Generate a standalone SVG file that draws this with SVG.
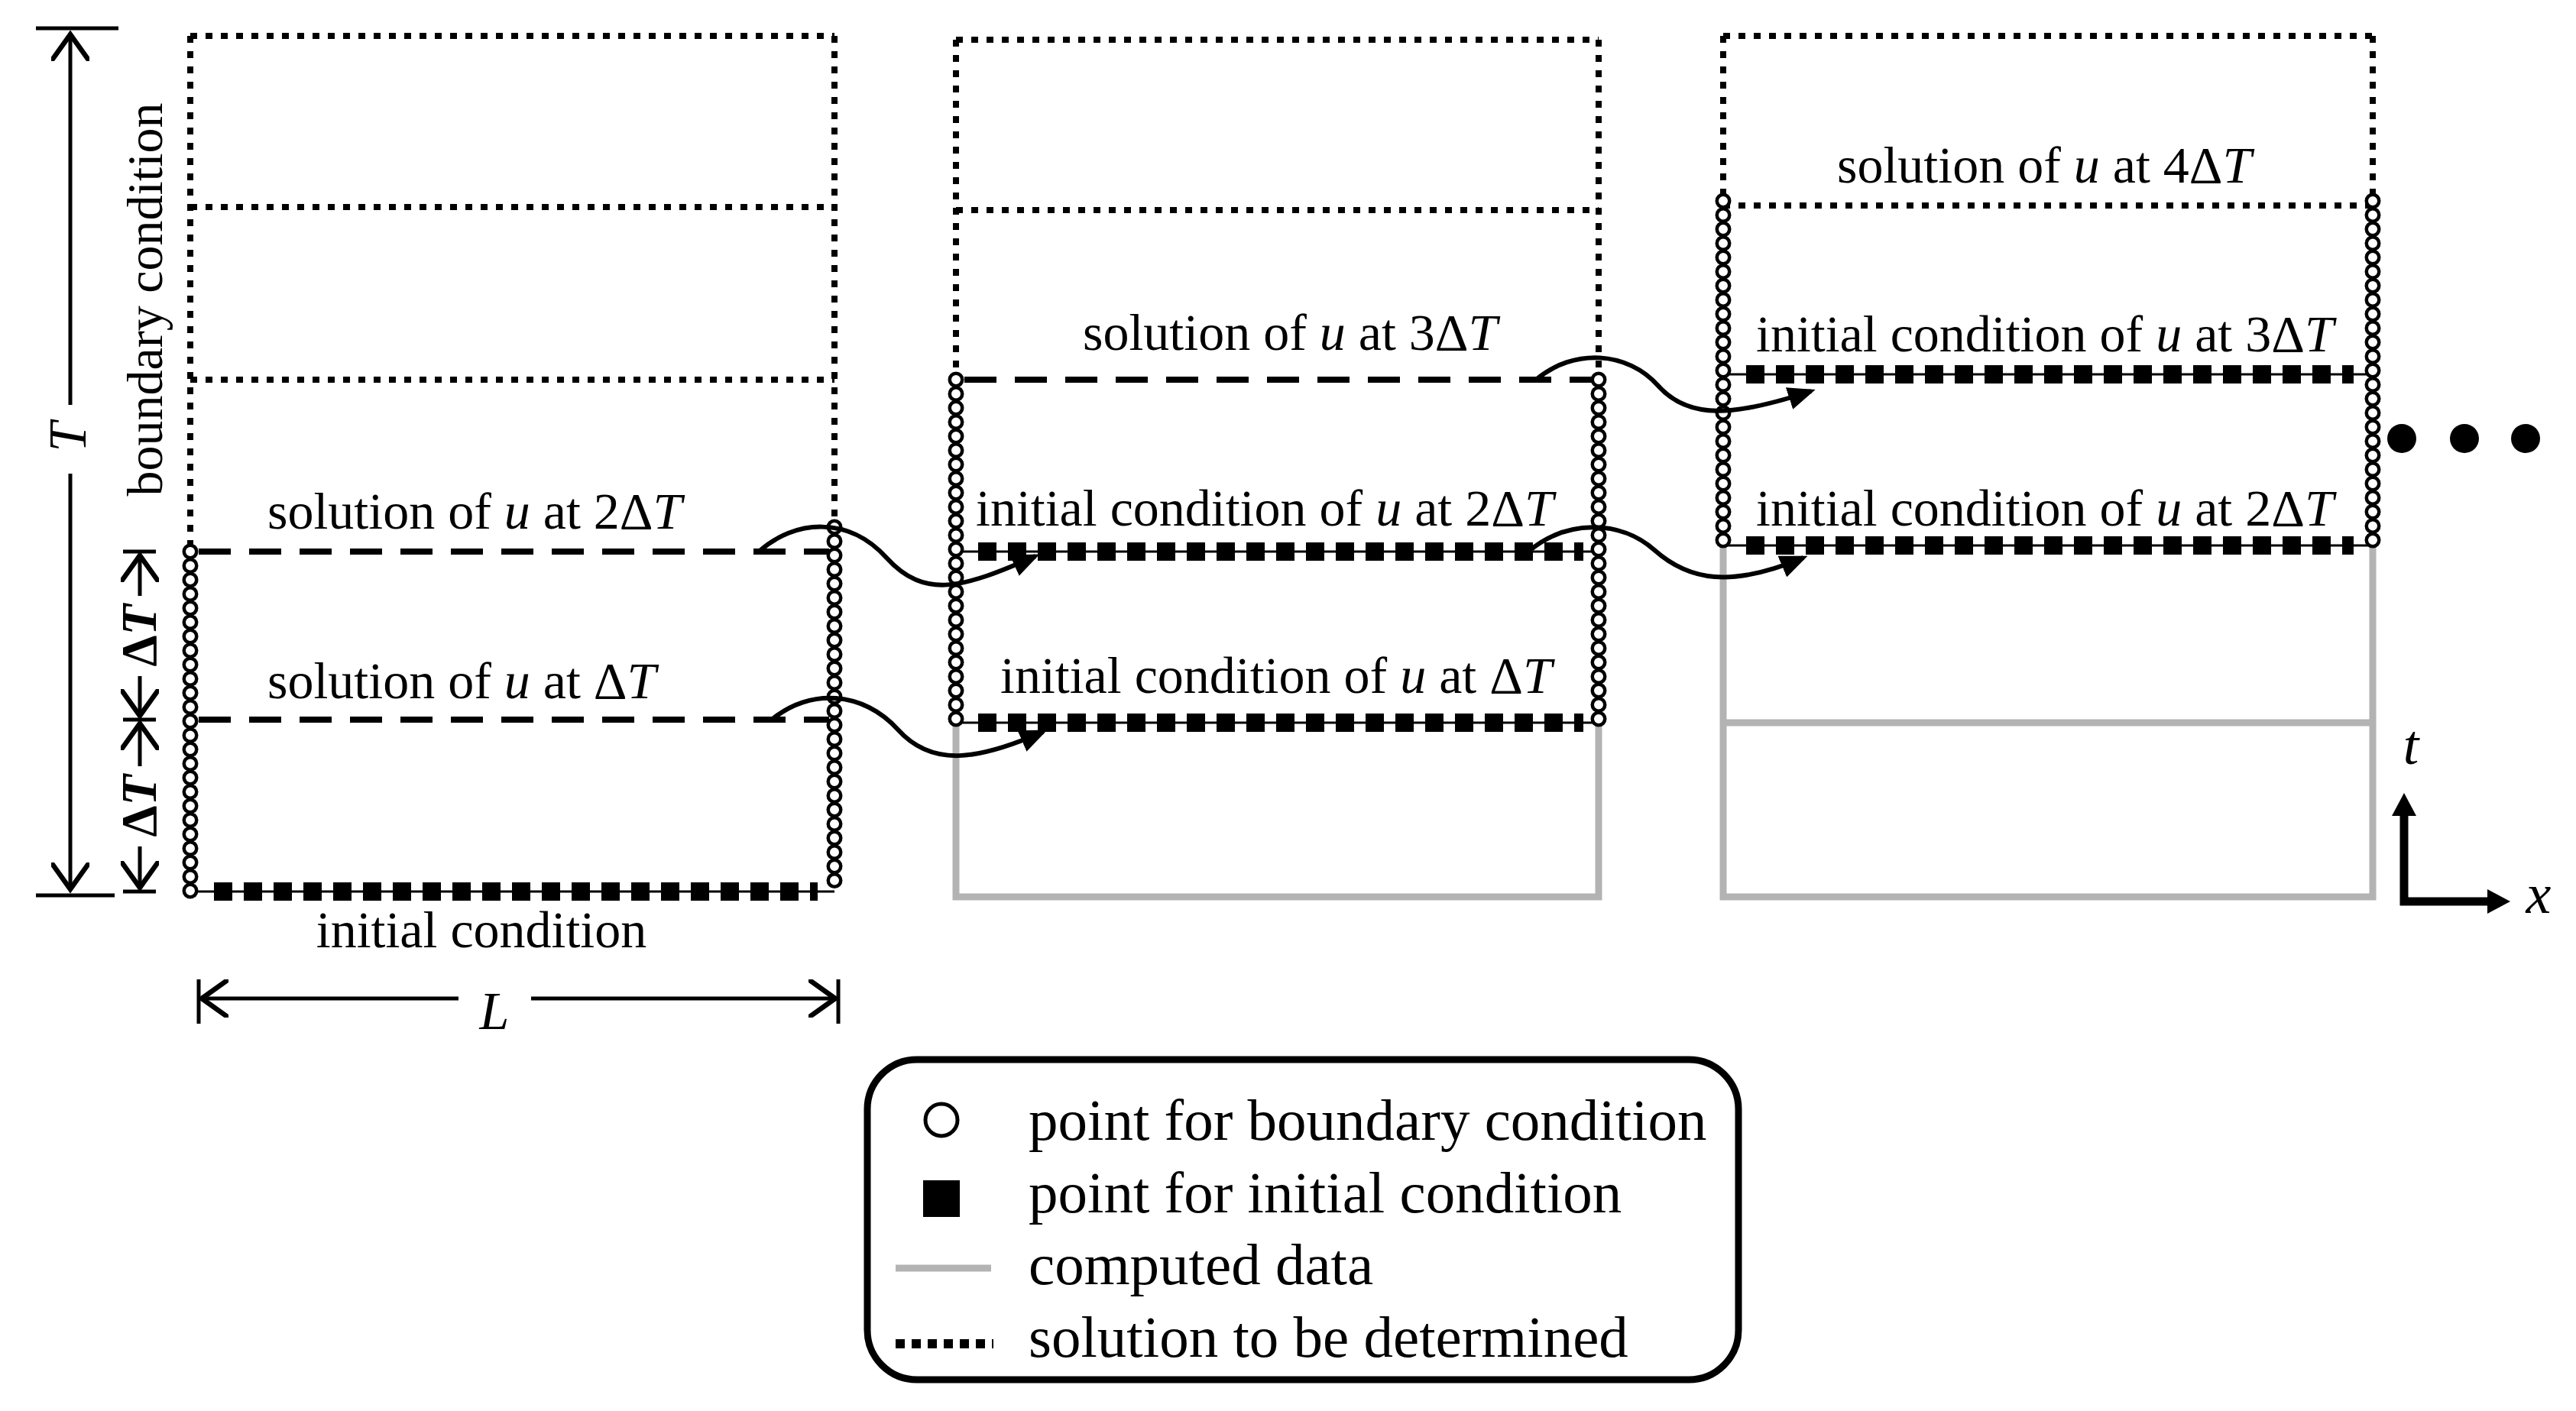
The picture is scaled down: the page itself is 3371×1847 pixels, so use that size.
<svg xmlns="http://www.w3.org/2000/svg" width="3371" height="1847" viewBox="0 0 3371 1847">
<style>
text{font-family:"Liberation Serif","Times New Roman",serif;fill:#000}
.lbl{font-size:68px}
.dot{stroke:#000;stroke-width:8;stroke-dasharray:9 11;fill:none}
.dash{stroke:#000;stroke-width:8;stroke-dasharray:42 24;fill:none}
.gray{stroke:#b3b3b3;stroke-width:9;fill:none}
.cb{stroke:#000;stroke-width:21;stroke-linecap:round;stroke-dasharray:0 18.5;fill:none}
.cw{stroke:#fff;stroke-width:12;stroke-linecap:round;stroke-dasharray:0 18.5;fill:none}
.thin{stroke:#000;stroke-width:3}
.sq{stroke:#000;stroke-width:24;stroke-dasharray:24 15;fill:none}
.ln{stroke:#000;stroke-width:5;fill:none}
.cur{stroke:#000;stroke-width:6;fill:none}
</style>
<defs>
<marker id="ah" markerWidth="6" markerHeight="5" refX="5" refY="2.5" orient="auto" markerUnits="strokeWidth"><path d="M0,0 L6,2.5 L0,5 Z" fill="#000"/></marker>
<marker id="oa" markerWidth="8" markerHeight="10" refX="7" refY="5" orient="auto" markerUnits="strokeWidth"><path d="M0,0 L7,5 L0,10" fill="none" stroke="#000" stroke-width="1.3"/></marker>
</defs>

<g id="dims">
<line x1="47" y1="37" x2="155" y2="37" class="ln" stroke-width="8"/>
<line x1="47" y1="1172" x2="150" y2="1172" class="ln" stroke-width="8"/>
<line x1="92" y1="530" x2="92" y2="45" class="ln" stroke-width="7" marker-end="url(#oa)"/>
<line x1="92" y1="620" x2="92" y2="1164" class="ln" stroke-width="7" marker-end="url(#oa)"/>
<text transform="translate(112,572) rotate(-90)" text-anchor="middle" font-style="italic" font-size="70">T</text>
<text transform="translate(212,392) rotate(-90)" text-anchor="middle" font-size="66">boundary condition</text>
<line x1="161" y1="722" x2="204" y2="722" class="ln"/>
<line x1="161" y1="942" x2="204" y2="942" class="ln"/>
<line x1="161" y1="1167" x2="204" y2="1167" class="ln"/>
<text transform="translate(204,832) rotate(-90)" text-anchor="middle" font-size="66" font-weight="bold">Δ<tspan font-style="italic">T</tspan></text>
<text transform="translate(204,1055) rotate(-90)" text-anchor="middle" font-size="66" font-weight="bold">Δ<tspan font-style="italic">T</tspan></text>
<line x1="183" y1="780" x2="183" y2="727" class="ln" stroke-width="4" marker-end="url(#oa)"/>
<line x1="183" y1="885" x2="183" y2="937" class="ln" stroke-width="4" marker-end="url(#oa)"/>
<line x1="183" y1="1003" x2="183" y2="947" class="ln" stroke-width="4" marker-end="url(#oa)"/>
<line x1="183" y1="1108" x2="183" y2="1162" class="ln" stroke-width="4" marker-end="url(#oa)"/>
<line x1="260" y1="1282" x2="260" y2="1340" class="ln"/>
<line x1="1097" y1="1282" x2="1097" y2="1340" class="ln"/>
<line x1="600" y1="1307" x2="264" y2="1307" class="ln" marker-end="url(#oa)"/>
<line x1="695" y1="1307" x2="1093" y2="1307" class="ln" marker-end="url(#oa)"/>
<text x="647" y="1347" text-anchor="middle" font-size="70" font-style="italic">L</text>
</g>

<g id="panel1">
<line x1="249" y1="47" x2="1092" y2="47" class="dot"/>
<line x1="249" y1="271" x2="1092" y2="271" class="dot"/>
<line x1="249" y1="497" x2="1092" y2="497" class="dot"/>
<line x1="249" y1="47" x2="249" y2="722" class="dot"/>
<line x1="1092" y1="47" x2="1092" y2="690" class="dot"/>
<line x1="260" y1="722" x2="1085" y2="722" class="dash"/>
<line x1="260" y1="942" x2="1085" y2="942" class="dash"/>
<line x1="249" y1="1167" x2="1092" y2="1167" class="thin"/>
<line x1="280" y1="1167" x2="1070" y2="1167" class="sq"/>
<line x1="249" y1="722" x2="249" y2="1168" class="cb"/><line x1="249" y1="722" x2="249" y2="1168" class="cw"/>
<line x1="1092" y1="690" x2="1092" y2="1168" class="cb"/><line x1="1092" y1="690" x2="1092" y2="1168" class="cw"/>
<text class="lbl" x="350" y="692">solution of <tspan font-style="italic">u</tspan> at 2Δ<tspan font-style="italic">T</tspan></text>
<text class="lbl" x="350" y="914">solution of <tspan font-style="italic">u</tspan> at  Δ<tspan font-style="italic">T</tspan></text>
<text class="lbl" x="630" y="1240" text-anchor="middle">initial condition</text>
</g>

<g id="panel2">
<line x1="1251" y1="52" x2="2092" y2="52" class="dot"/>
<line x1="1251" y1="275" x2="2092" y2="275" class="dot"/>
<line x1="1251" y1="52" x2="1251" y2="497" class="dot"/>
<line x1="2092" y1="52" x2="2092" y2="497" class="dot"/>
<line x1="1262" y1="497" x2="2085" y2="497" class="dash"/>
<polyline points="1251,946 1251,1174 2092,1174 2092,946" class="gray"/>
<line x1="1251" y1="722" x2="2092" y2="722" class="thin"/>
<line x1="1280" y1="722" x2="2072" y2="722" class="sq"/>
<line x1="1251" y1="946" x2="2092" y2="946" class="thin"/>
<line x1="1280" y1="946" x2="2072" y2="946" class="sq"/>
<line x1="1251" y1="497" x2="1251" y2="947" class="cb"/><line x1="1251" y1="497" x2="1251" y2="947" class="cw"/>
<line x1="2092" y1="497" x2="2092" y2="947" class="cb"/><line x1="2092" y1="497" x2="2092" y2="947" class="cw"/>
<text class="lbl" x="1417" y="458">solution of <tspan font-style="italic">u</tspan> at  3Δ<tspan font-style="italic">T</tspan></text>
<text class="lbl" x="1277" y="688">initial condition of <tspan font-style="italic">u</tspan> at 2Δ<tspan font-style="italic">T</tspan></text>
<text class="lbl" x="1309" y="907">initial condition of <tspan font-style="italic">u</tspan> at Δ<tspan font-style="italic">T</tspan></text>
</g>

<g id="panel3">
<line x1="2255" y1="47" x2="3105" y2="47" class="dot"/>
<line x1="2255" y1="269" x2="3105" y2="269" class="dot"/>
<line x1="2255" y1="47" x2="2255" y2="269" class="dot"/>
<line x1="3105" y1="47" x2="3105" y2="269" class="dot"/>
<polyline points="2255,714 2255,1174 3105,1174 3105,714" class="gray"/>
<line x1="2255" y1="946" x2="3105" y2="946" class="gray"/>
<line x1="2255" y1="490" x2="3105" y2="490" class="thin"/>
<line x1="2285" y1="490" x2="3080" y2="490" class="sq"/>
<line x1="2255" y1="714" x2="3105" y2="714" class="thin"/>
<line x1="2285" y1="714" x2="3080" y2="714" class="sq"/>
<line x1="2255" y1="263" x2="2255" y2="715" class="cb"/><line x1="2255" y1="263" x2="2255" y2="715" class="cw"/>
<line x1="3105" y1="263" x2="3105" y2="715" class="cb"/><line x1="3105" y1="263" x2="3105" y2="715" class="cw"/>
<text class="lbl" x="2404" y="239">solution of <tspan font-style="italic">u</tspan> at  4Δ<tspan font-style="italic">T</tspan></text>
<text class="lbl" x="2298" y="460">initial condition of <tspan font-style="italic">u</tspan> at 3Δ<tspan font-style="italic">T</tspan></text>
<text class="lbl" x="2298" y="688">initial condition of <tspan font-style="italic">u</tspan> at 2Δ<tspan font-style="italic">T</tspan></text>
</g>

<g id="connectors">
<path d="M993 722 C1040 680,1110 675,1160 730 S1260 770,1355 728" class="cur" marker-end="url(#ah)"/>
<path d="M1010 942 C1060 900,1130 905,1175 955 S1280 995,1365 958" class="cur" marker-end="url(#ah)"/>
<path d="M2010 497 C2060 455,2130 460,2170 505 S2270 545,2370 512" class="cur" marker-end="url(#ah)"/>
<path d="M2000 722 C2050 680,2120 680,2165 720 S2265 770,2360 730" class="cur" marker-end="url(#ah)"/>
</g>

<g id="ellipsis">
<circle cx="3143" cy="574" r="19"/><circle cx="3225" cy="574" r="19"/><circle cx="3305" cy="574" r="19"/>
</g>

<g id="axes">
<polyline points="3146,1055 3146,1180 3260,1180" fill="none" stroke="#000" stroke-width="11"/>
<path d="M3146,1038 L3130,1068 L3162,1068 Z"/>
<path d="M3285,1180 L3255,1164 L3255,1196 Z"/>
<text x="3155" y="1000" font-size="74" font-style="italic" text-anchor="middle">t</text>
<text x="3322" y="1195" font-size="74" font-style="italic" text-anchor="middle">x</text>
</g>

<g id="legend">
<rect x="1135" y="1387" width="1140" height="419" rx="65" fill="none" stroke="#000" stroke-width="9"/>
<circle cx="1232" cy="1466" r="21" fill="#fff" stroke="#000" stroke-width="5"/>
<rect x="1208" y="1545" width="48" height="48"/>
<line x1="1172" y1="1660" x2="1297" y2="1660" class="gray" stroke-width="12"/>
<line x1="1172" y1="1759" x2="1300" y2="1759" stroke="#000" stroke-width="12" stroke-dasharray="12 9"/>
<text x="1346" y="1492" font-size="77">point for boundary condition</text>
<text x="1346" y="1587" font-size="77">point for initial condition</text>
<text x="1346" y="1681" font-size="77">computed data</text>
<text x="1346" y="1776" font-size="77">solution to be determined</text>
</g>
</svg>
